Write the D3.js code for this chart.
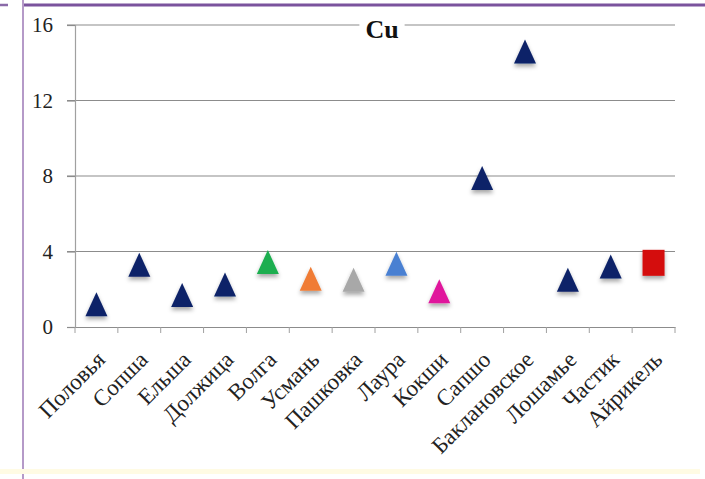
<!DOCTYPE html>
<html>
<head>
<meta charset="utf-8">
<script src="https://cdn.jsdelivr.net/npm/d3@7"></script>
<style>
  html, body { margin: 0; padding: 0; background: #ffffff; }
  svg { display: block; }
  text { font-family: "Liberation Serif", "Times New Roman", "DejaVu Serif", serif; }
</style>
</head>
<body>
<svg id="chart" width="705" height="479"></svg>
<script>
// Copper content by site
const categories = ["Половья", "Сопша", "Ельша", "Должица", "Волга", "Усмань", "Пашковка",
                    "Лаура", "Кокши", "Сапшо", "Баклановское", "Лошамье", "Частик", "Айрикель"];
const values = [1.2, 3.3, 1.7, 2.25, 3.45, 2.55, 2.5, 3.35, 1.9, 7.9, 14.6, 2.5, 3.2, 3.4];
const markerColors = ["#0b2268", "#0b2268", "#0b2268", "#0b2268", "#1aae4f", "#f07c35", "#a8a8a8",
                      "#4a80d2", "#e0199c", "#0b2268", "#0b2268", "#0b2268", "#0b2268", "#d40d0d"];
const markerShapes = ["triangle", "triangle", "triangle", "triangle", "triangle", "triangle", "triangle",
                      "triangle", "triangle", "triangle", "triangle", "triangle", "triangle", "square"];
const yTicks = [0, 4, 8, 12, 16];
const title = "Cu";

const svg = d3.select("#chart");

// slide-style frame
svg.append("line").attr("x1", 0).attr("x2", 8).attr("y1", 5).attr("y2", 5)
  .attr("stroke", "#8a6aa8").attr("stroke-width", 2.5);
svg.append("line").attr("x1", 22).attr("x2", 705).attr("y1", 5).attr("y2", 5)
  .attr("stroke", "#7b539d").attr("stroke-width", 3);
svg.append("line").attr("x1", 23).attr("x2", 23).attr("y1", 0).attr("y2", 479)
  .attr("stroke", "#b59ac8").attr("stroke-width", 2);
svg.append("rect").attr("x", 0).attr("y", 469).attr("width", 700).attr("height", 5)
  .attr("fill", "#fffbe4");

const plot = { left: 75, right: 675, top: 25, bottom: 327 };

const x = d3.scaleBand().domain(categories).range([plot.left, plot.right]);
const y = d3.scaleLinear().domain([0, 16]).range([plot.bottom, plot.top]);

// horizontal gridlines
svg.append("g").selectAll("line").data(yTicks.filter(d => d > 0)).join("line")
  .attr("x1", 67).attr("x2", plot.right)
  .attr("y1", d => y(d)).attr("y2", d => y(d))
  .attr("stroke", "#8c8c8c").attr("stroke-width", 1.2);

// y axis
const yAxis = svg.append("g").attr("transform", `translate(${plot.left},0)`)
  .call(d3.axisLeft(y).tickValues(yTicks).tickSize(8).tickPadding(14).tickFormat(d3.format("d")));
yAxis.attr("font-family", null);
yAxis.select(".domain").attr("stroke", "#a0a0a0").attr("stroke-width", 1.2);
yAxis.selectAll(".tick line").attr("stroke", "#8c8c8c").attr("stroke-width", 1.2);
yAxis.selectAll(".tick text").attr("font-size", 21).attr("fill", "#222");

// x axis line
const xAxis = svg.append("g").attr("transform", `translate(0,${plot.bottom})`)
  .call(d3.axisBottom(x).tickSize(0).tickFormat(d => d));
xAxis.select(".domain").attr("stroke", "#8c8c8c").attr("stroke-width", 1.2);
xAxis.selectAll(".tick text").remove();
// band boundary ticks
svg.append("g").selectAll("line").data(d3.range(categories.length + 1)).join("line")
  .attr("x1", i => plot.left + i * x.step()).attr("x2", i => plot.left + i * x.step())
  .attr("y1", plot.bottom).attr("y2", plot.bottom + 6)
  .attr("stroke", "#a0a0a0").attr("stroke-width", 1);

// rotated category labels
svg.append("g").selectAll("text").data(categories).join("text")
  .attr("transform", d => `translate(${x(d) + x.bandwidth() / 2 + 10},${plot.bottom + 34}) rotate(-45)`)
  .attr("text-anchor", "end")
  .attr("font-size", 23).attr("fill", "#222")
  .text(d => d);

// title on a white backing that interrupts the top gridline
const titleG = svg.append("g");
const titleBg = titleG.append("rect").attr("fill", "#ffffff");
const titleText = titleG.append("text")
  .attr("x", 382).attr("y", 38).attr("text-anchor", "middle")
  .attr("font-size", 26).attr("font-weight", "bold").attr("fill", "#111")
  .text(title);
const bb = titleText.node().getBBox();
titleBg.attr("x", bb.x - 6).attr("y", bb.y).attr("width", bb.width + 12).attr("height", bb.height);

// soft shadow under markers
const defs = svg.append("defs");
const f = defs.append("filter").attr("id", "shadow").attr("x", "-50%").attr("y", "-50%")
  .attr("width", "200%").attr("height", "200%");
f.append("feDropShadow").attr("dx", 0).attr("dy", 3).attr("stdDeviation", 2)
  .attr("flood-color", "#000").attr("flood-opacity", 0.35);

// markers centred on their value: upward triangle 22x24, square 22x26
const triPath = "M0,-12L11,12L-11,12Z";
const sqPath = "M-11,-13H11V13H-11Z";

svg.append("g").selectAll("path").data(values).join("path")
  .attr("transform", (d, i) => `translate(${x(categories[i]) + x.bandwidth() / 2},${y(d)})`)
  .attr("d", (d, i) => markerShapes[i] === "square" ? sqPath : triPath)
  .attr("fill", (d, i) => markerColors[i])
  .attr("filter", "url(#shadow)");
</script>
</body>
</html>
